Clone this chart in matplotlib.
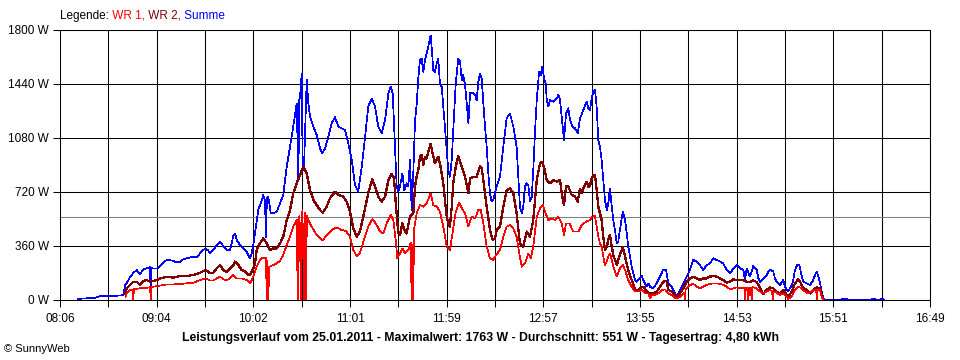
import matplotlib
matplotlib.use("Agg")
import matplotlib.pyplot as plt
import numpy as np

plt.rcParams['font.family'] = ['Liberation Sans', 'DejaVu Sans']

# Zeit in Minuten seit Mitternacht, Leistung in W
summe_t = [496.8, 501.0, 507.0, 510.0, 516.1, 522.1, 524.1, 525.1, 526.1, 528.1, 530.1, 532.1, 534.1, 536.1,
           538.1, 540.1, 540.5, 541.0, 542.1, 544.5, 546.1, 548.1, 550.1, 554.1, 556.2, 558.1, 560.1, 562.2,
           564.1, 566.1, 568.2, 570.2, 572.1, 573.6, 575.1, 576.2, 578.2, 580.2, 582.2, 583.2, 584.2, 586.2,
           588.2, 590.2, 591.2, 592.2, 594.2, 596.2, 598.2, 600.2, 601.2, 602.2, 603.2, 605.2, 607.3, 608.2,
           609.2, 609.8, 610.4, 611.2, 612.7, 614.2, 616.3, 618.3, 620.2, 622.3, 624.3, 626.2, 628.3, 629.3,
           629.8, 630.3, 631.3, 631.9, 632.7, 634.3, 635.3, 636.3, 638.3, 640.3, 642.3, 643.7, 645.3, 647.3,
           649.3, 651.3, 653.3, 655.3, 657.3, 659.3, 661.4, 663.3, 665.3, 667.4, 669.4, 671.3, 673.4, 675.4,
           677.3, 679.4, 681.4, 683.4, 684.8, 686.0, 687.4, 688.4, 689.4, 690.4, 691.8, 693.0, 694.4, 695.4,
           696.4, 697.4, 698.4, 699.4, 700.4, 701.4, 702.4, 703.4, 704.4, 705.4, 706.4, 707.4, 708.8, 709.4,
           710.4, 711.4, 712.5, 713.4, 714.4, 715.5, 716.4, 717.4, 718.5, 719.4, 720.4, 721.5, 722.4, 723.9,
           725.4, 726.5, 727.5, 728.4, 729.5, 730.5, 731.5, 732.5, 734.5, 735.5, 736.5, 737.5, 738.5, 739.5,
           740.5, 741.5, 742.5, 743.5, 744.5, 745.5, 746.5, 747.5, 748.5, 750.5, 752.5, 754.5, 756.5, 758.5,
           760.5, 761.5, 762.5, 763.6, 764.5, 765.5, 766.6, 767.5, 768.5, 769.6, 770.5, 771.6, 772.6, 774.0,
           775.0, 775.9, 777.0, 778.0, 778.6, 779.5, 780.6, 782.5, 784.6, 785.6, 786.6, 787.6, 789.0, 790.2,
           791.6, 792.6, 794.0, 795.6, 797.2, 798.6, 800.6, 802.6, 803.6, 804.6, 805.6, 806.6, 807.6, 808.6,
           809.6, 810.6, 811.6, 812.6, 813.6, 814.7, 815.6, 816.6, 817.7, 818.6, 819.6, 820.7, 821.6, 822.6,
           824.3, 825.7, 826.7, 827.6, 828.7, 829.7, 830.6, 831.7, 832.7, 834.7, 835.7, 836.7, 838.7, 839.7,
           840.7, 842.7, 844.7, 846.7, 848.7, 850.3, 851.7, 853.7, 855.7, 856.7, 857.7, 858.7, 860.7, 862.7,
           864.7, 866.7, 868.8, 870.7, 872.7, 874.8, 876.7, 878.7, 880.8, 882.8, 884.7, 886.8, 888.8, 890.8,
           892.8, 894.8, 896.8, 897.8, 898.8, 900.8, 902.8, 904.8, 905.8, 906.8, 908.8, 910.8, 911.8, 913.2,
           914.8, 915.8, 916.8, 918.8, 920.8, 921.8, 922.9, 923.8, 924.8, 925.9, 926.8, 927.8, 929.2, 930.4,
           931.3, 932.8, 934.9, 936.9, 938.8, 939.9, 940.9, 941.9, 942.9, 943.9, 944.9, 945.9,
           955.5, 956.1, 959.1, 959.7, 973.5, 974.1, 975.9, 976.5, 978.8, 979.4, 980.6, 981.2]
summe_w = [8, 10, 15, 25, 25, 30, 33, 100, 111, 155, 180, 200, 173, 205,
           211, 218, 67, 215, 209, 211, 227, 249, 267, 262, 249, 255, 271, 278,
           284, 289, 284, 311, 333, 344, 329, 311, 333, 367, 389, 378, 356, 333,
           333, 427, 444, 400, 367, 344, 322, 278, 311, 367, 444, 600, 667, 700,
           667, 422, 680, 689, 578, 578, 589, 644, 700, 889, 1022, 1156, 1311, 800,
           1330, 1356, 1511, 867, 889, 1467, 1311, 1222, 1156, 1100, 1011, 978, 1011, 1089,
           1178, 1218, 1156, 1144, 1133, 1044, 933, 767, 722, 889, 1089, 1289, 1344, 1289,
           1156, 1111, 1200, 1378, 1422, 1378, 1022, 756, 722, 756, 844, 733, 778, 756,
           933, 600, 850, 1190, 1300, 1480, 1600, 1611, 1522, 1600, 1644, 1689, 1763, 1689,
           1533, 1522, 1578, 1611, 1444, 1422, 1289, 1156, 1000, 867, 822, 933, 1133, 1444,
           1611, 1589, 1467, 1500, 1433, 1311, 1178, 1378, 1378, 1367, 1333, 1456, 1511, 1478,
           1311, 1156, 1022, 844, 711, 656, 667, 711, 756, 822, 1022, 1211, 1244, 1156,
           1022, 822, 622, 578, 622, 756, 778, 767, 656, 689, 867, 1133, 1333, 1522,
           1500, 1556, 1478, 1444, 1333, 1289, 1333, 1322, 1344, 1367, 1333, 1222, 1067, 1244,
           1278, 1200, 1156, 1144, 1111, 1210, 1267, 1322, 1278, 1267, 1344, 1389, 1404, 1289,
           1067, 1022, 933, 800, 667, 600, 644, 744, 622, 533, 467, 378, 389, 467,
           589, 533, 444, 356, 289, 222, 178, 133, 122, 144, 160, 133, 89, 111,
           89, 78, 111, 156, 204, 200, 111, 89, 44, 22, 44, 67, 111, 156,
           200, 267, 256, 233, 200, 233, 244, 278, 267, 256, 244, 200, 178, 211,
           233, 211, 200, 133, 211, 156, 227, 200, 144, 122, 144, 167, 189, 204,
           189, 144, 122, 100, 133, 89, 67, 56, 78, 100, 133, 200, 233, 233,
           189, 122, 111, 100, 133, 167, 189, 156, 111, 56, 11, 0,
           0, 8, 8, 0, 0, 6, 6, 0, 0, 6, 6, 0]

wr2_t = [525.3, 526.1, 528.1, 530.1, 532.1, 534.1, 536.1, 538.1, 540.1, 542.1, 544.5, 546.1, 550.1, 554.1,
         558.1, 562.2, 566.1, 570.2, 573.6, 576.2, 578.2, 580.2, 582.2, 584.2, 586.2, 588.2, 590.2, 591.2,
         593.2, 595.2, 597.2, 599.2, 600.2, 601.2, 602.2, 603.2, 604.2, 606.2, 608.2, 610.3, 612.2, 614.2,
         616.3, 618.3, 620.2, 622.3, 624.3, 626.2, 628.3, 630.3, 632.3, 634.3, 636.3, 638.3, 640.3, 642.3,
         643.9, 646.3, 648.3, 651.3, 653.3, 656.3, 658.3, 660.3, 662.3, 664.4, 666.3, 668.3, 671.3, 673.7,
         675.4, 677.3, 679.4, 681.4, 683.4, 685.4, 686.8, 688.0, 689.4, 690.4, 691.8, 693.0, 694.4, 696.4,
         698.4, 699.4, 700.4, 701.4, 702.4, 703.4, 704.4, 705.4, 706.4, 707.4, 708.8, 710.0, 711.4, 713.4,
         714.4, 716.4, 717.4, 718.5, 719.4, 720.4, 721.5, 722.4, 723.9, 725.4, 727.5, 729.5, 731.5, 732.5,
         734.5, 736.5, 738.5, 739.5, 740.5, 742.5, 744.5, 746.1, 747.5, 748.5, 750.5, 752.5, 754.5, 756.5,
         758.5, 760.5, 762.5, 764.5, 766.6, 768.5, 770.5, 772.6, 774.6, 775.9, 777.1, 778.6, 780.6, 782.5,
         784.6, 786.6, 787.6, 789.0, 790.2, 791.6, 793.6, 795.6, 797.2, 798.6, 799.6, 800.6, 802.6, 803.6,
         804.6, 805.6, 806.6, 807.6, 808.6, 809.6, 810.6, 811.6, 812.6, 813.6, 814.7, 815.6, 816.6, 817.7,
         818.6, 819.6, 820.7, 821.6, 822.6, 824.3, 825.7, 827.6, 829.7, 831.7, 833.6, 835.7, 836.7, 838.7,
         840.7, 842.7, 844.7, 846.7, 848.7, 850.7, 851.7, 853.7, 855.7, 856.7, 858.7, 860.7, 862.7, 864.7,
         866.7, 868.8, 870.7, 872.7, 874.8, 876.7, 878.7, 880.8, 882.8, 884.7, 886.8, 888.8, 890.8, 892.8,
         894.8, 896.8, 898.8, 900.8, 902.8, 904.8, 906.8, 908.8, 910.8, 912.8, 914.8, 916.8, 918.8, 920.8,
         922.9, 923.8, 925.9, 927.8, 929.8, 930.9, 932.8, 934.9, 936.9, 938.8, 940.9, 942.9, 943.9, 944.9]
wr2_w = [40, 78, 100, 122, 122, 100, 127, 133, 122, 127, 133, 144, 155, 149,
         160, 160, 167, 182, 200, 178, 182, 211, 233, 200, 189, 211, 233, 256,
         233, 200, 189, 167, 167, 189, 211, 244, 333, 378, 411, 378, 333, 344,
         344, 378, 422, 533, 600, 711, 778, 833, 889, 844, 733, 667, 633, 600,
         582, 622, 678, 722, 700, 689, 656, 589, 478, 422, 456, 556, 711, 804,
         756, 689, 656, 689, 800, 840, 811, 622, 444, 433, 511, 467, 444, 556,
         578, 756, 822, 867, 956, 967, 900, 956, 944, 989, 1040, 978, 911, 956,
         911, 778, 667, 556, 511, 489, 622, 778, 889, 960, 889, 822, 711, 811,
         822, 822, 893, 878, 800, 622, 467, 400, 411, 467, 489, 622, 733, 744,
         711, 578, 378, 356, 456, 422, 533, 800, 911, 922, 878, 800, 778, 800,
         789, 800, 711, 633, 756, 756, 700, 689, 656, 740, 711, 745, 789, 756,
         760, 811, 833, 833, 733, 622, 578, 533, 422, 333, 356, 400, 433, 356,
         300, 267, 233, 267, 300, 351, 289, 200, 133, 67, 67, 89, 89, 56,
         44, 44, 56, 89, 122, 129, 67, 56, 33, 18, 44, 78, 122, 144,
         156, 144, 133, 144, 144, 156, 160, 156, 144, 133, 116, 122, 138, 133,
         133, 133, 122, 122, 130, 120, 80, 40, 67, 84, 78, 56, 44, 67,
         33, 22, 56, 111, 138, 122, 78, 67, 44, 67, 84, 78, 33, 0]

wr1_t = [525.5, 526.1, 528.1, 529.8, 530.1, 530.4, 534.1, 538.1, 540.2, 540.5, 540.8, 542.1, 546.1, 550.1,
         554.1, 558.1, 562.2, 566.1, 570.2, 573.6, 576.2, 578.2, 580.2, 582.2, 584.2, 586.2, 588.2, 590.2,
         592.2, 595.2, 598.2, 600.2, 602.2, 604.2, 606.2, 608.2, 609.8, 610.3, 610.7, 611.2, 611.8, 614.2,
         616.3, 618.3, 620.2, 622.3, 624.3, 626.2, 628.3, 628.9, 629.4, 630.0, 630.9, 631.7, 632.9, 633.3,
         633.9, 634.4, 635.3, 637.3, 640.3, 643.9, 646.3, 649.3, 652.3, 655.3, 657.9, 660.3, 662.3, 664.4,
         666.3, 668.7, 671.3, 673.7, 675.8, 678.4, 680.4, 682.4, 684.8, 686.4, 687.8, 688.8, 690.4, 691.8,
         693.4, 695.4, 696.8, 697.4, 697.9, 698.4, 698.8, 700.4, 702.4, 704.4, 706.4, 708.8, 710.4, 712.5,
         714.4, 716.4, 718.5, 720.4, 722.4, 723.9, 726.0, 728.1, 729.5, 731.5, 733.5, 735.5, 737.5, 738.9,
         740.5, 742.5, 744.5, 746.5, 748.1, 750.5, 752.5, 754.5, 756.5, 758.5, 760.5, 762.1, 763.6, 765.5,
         767.5, 769.0, 770.5, 772.6, 774.6, 776.2, 777.6, 779.5, 781.6, 783.6, 785.6, 787.6, 789.0, 790.2,
         792.2, 794.6, 797.6, 799.6, 802.2, 804.6, 806.0, 807.6, 808.6, 809.6, 810.6, 811.6, 812.6, 813.6,
         814.7, 815.6, 816.6, 817.7, 818.6, 819.6, 820.7, 821.6, 822.6, 824.3, 825.7, 827.6, 829.7, 831.7,
         833.6, 835.7, 837.7, 839.7, 840.7, 841.7, 843.7, 845.7, 847.7, 849.7, 851.7, 853.7, 855.7, 856.7,
         858.7, 860.7, 861.4, 861.7, 862.1, 862.7, 864.7, 866.7, 868.8, 870.7, 872.7, 874.8, 876.7, 878.7,
         880.8, 882.8, 884.7, 886.8, 888.8, 890.8, 892.8, 894.8, 896.8, 897.4, 897.8, 898.3, 899.3, 899.8,
         900.3, 901.3, 901.8, 902.3, 904.8, 906.8, 908.8, 910.8, 912.8, 914.1, 914.4, 914.8, 915.8, 918.8,
         920.8, 922.9, 923.8, 925.9, 927.8, 929.8, 931.9, 933.9, 935.8, 937.9, 939.9, 940.6, 940.9, 941.3,
         942.9, 943.9, 944.9]
wr1_w = [22, 44, 67, 70, 0, 72, 78, 82, 85, 0, 86, 89, 96, 104,
         104, 107, 111, 115, 133, 144, 129, 129, 144, 155, 138, 133, 144, 167,
         144, 144, 133, 111, 156, 222, 267, 284, 280, 0, 260, 0, 222, 233,
         244, 262, 300, 367, 422, 489, 533, 0, 550, 560, 0, 600, 0, 580,
         0, 560, 533, 489, 433, 396, 433, 467, 484, 467, 460, 422, 333, 293,
         311, 400, 489, 538, 511, 456, 444, 511, 567, 533, 400, 278, 311, 344,
         311, 333, 382, 0, 370, 0, 467, 578, 633, 622, 644, 711, 633, 622,
         589, 489, 356, 333, 478, 589, 649, 600, 578, 489, 556, 544, 600, 600,
         511, 356, 278, 267, 300, 333, 422, 489, 500, 478, 422, 311, 222, 244,
         311, 278, 356, 556, 611, 633, 589, 533, 544, 533, 556, 511, 433, 511,
         511, 456, 456, 500, 522, 533, 556, 560, 489, 422, 378, 356, 289, 233,
         256, 289, 311, 267, 222, 189, 160, 182, 211, 233, 200, 133, 89, 56,
         56, 67, 44, 44, 11, 33, 33, 44, 67, 71, 44, 33, 11, 11,
         18, 44, 50, 0, 70, 78, 100, 107, 89, 78, 89, 100, 107, 111,
         111, 107, 100, 89, 71, 78, 84, 78, 78, 80, 0, 82, 82, 0,
         82, 84, 0, 86, 78, 56, 44, 56, 67, 60, 0, 58, 56, 33,
         44, 22, 7, 22, 67, 89, 78, 56, 44, 56, 71, 70, 0, 68,
         67, 22, 0]

x_labels = ["08:06", "09:04", "10:02", "11:01", "11:59", "12:57", "13:55", "14:53", "15:51", "16:49"]
x_start, x_end = 486, 1009
y_werte = [0, 360, 720, 1080, 1440, 1800]
durchschnitt = 551
titel = ("Leistungsverlauf vom 25.01.2011 - Maximalwert: 1763 W - "
         "Durchschnitt: 551 W - Tagesertrag: 4,80 kWh")

fig = plt.figure(figsize=(9.6, 3.6), dpi=100)
ax = fig.add_axes([60 / 960, 60 / 360, 870 / 960, 270 / 360])

ax.plot(summe_t, summe_w, color="#0000ff", lw=0.5, antialiased=False, zorder=3)
ax.plot(wr2_t, wr2_w, color="#800000", lw=0.9, antialiased=False, zorder=4)
ax.plot(wr1_t, wr1_w, color="#ff0000", lw=0.5, antialiased=False, zorder=5)
ax.axhline(durchschnitt, color="#808080", lw=0.75, zorder=2)

ax.set_xlim(x_start, x_end)
ax.set_ylim(0, 1800)

xt = np.linspace(x_start, x_end, 19)
ax.set_xticks(xt)
beschriftung = []
for i in range(19):
    beschriftung.append(x_labels[i // 2] if i % 2 == 0 else "")
ax.set_xticklabels(beschriftung)
ax.set_yticks(y_werte)
ax.set_yticklabels([f"{v} W" for v in y_werte])

ax.grid(True, color="black", lw=0.75)
ax.set_axisbelow(True)
for s in ax.spines.values():
    s.set_color("black")
    s.set_linewidth(0.75)
# Nulllinie soll über den Kurven liegen
ax.spines["bottom"].set_zorder(6)
ax.tick_params(axis="both", length=5, width=0.75, labelsize=8.5, color="black")
ax.tick_params(axis="x", pad=4)
ax.tick_params(axis="y", pad=3)

# Legende als farbiger Text
t0 = fig.text(60 / 960, 1 - 16 / 360, "Legende:", fontsize=8.5, va="center", ha="left")
t1 = ax.annotate(" WR 1,", xy=(1, 0), xycoords=t0, va="bottom", ha="left", fontsize=8.5, color="#ff0000")
t2 = ax.annotate(" WR 2,", xy=(1, 0), xycoords=t1, va="bottom", ha="left", fontsize=8.5, color="#800000")
t3 = ax.annotate(" Summe", xy=(1, 0), xycoords=t2, va="bottom", ha="left", fontsize=8.5, color="#0000ff")

fig.text(480 / 960, 1 - 338 / 360, titel, fontsize=8.8, fontweight="bold", ha="center", va="center")
fig.text(4 / 960, 1 - 349 / 360, "© SunnyWeb", fontsize=8, ha="left", va="center")

fig.savefig("out.png", dpi=100)
